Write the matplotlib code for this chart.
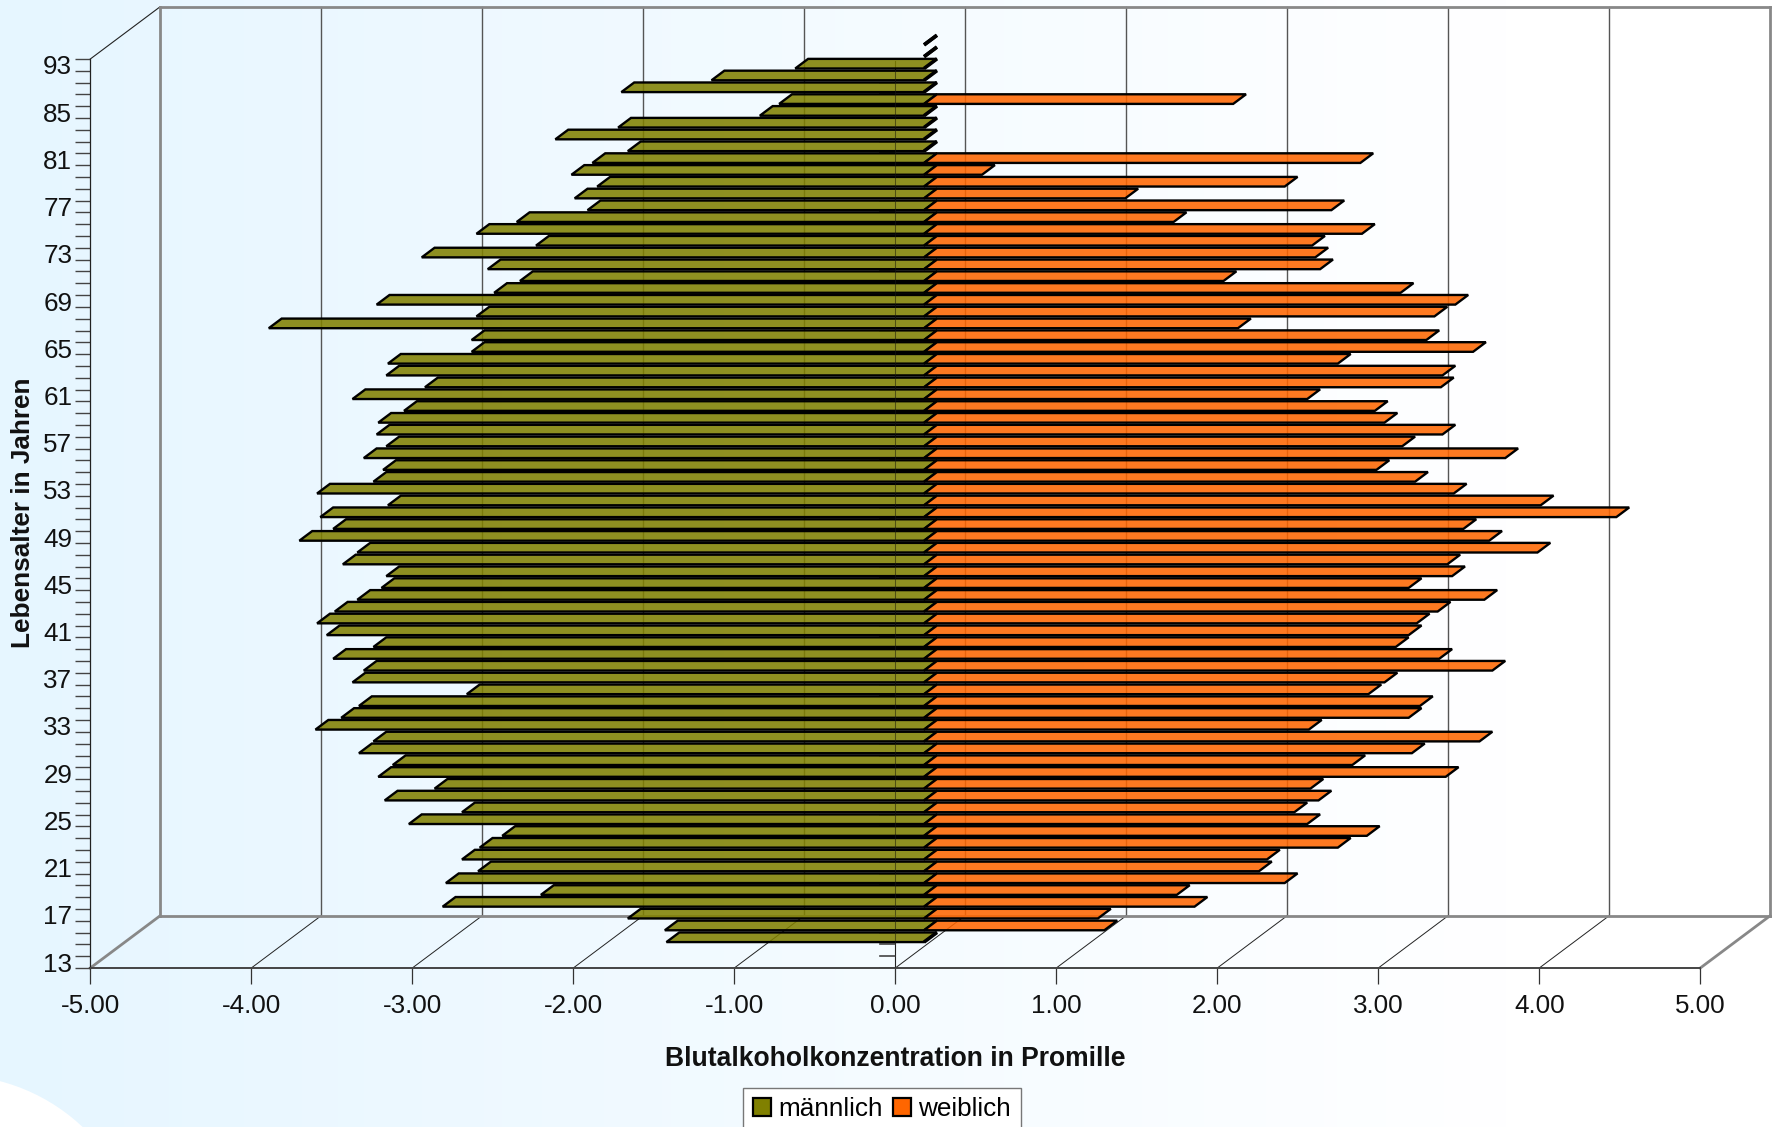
import matplotlib
matplotlib.use('Agg')
import matplotlib.pyplot as plt
import numpy as np
from matplotlib.patches import Circle, Patch

plt.rcParams['font.family'] = ['Liberation Sans', 'DejaVu Sans']

# ages on the category axis, bottom to top
ages = list(range(13, 89)) + [93]
# promille per age, same order
male = [-1.62, -1.63, -1.86, -3.01, -2.40, -2.99, -2.79, -2.89, -2.78, -2.64,
        -3.22, -2.89, -3.37, -3.06, -3.41, -3.32, -3.53, -3.44, -3.80, -3.64,
        -3.53, -2.86, -3.57, -3.50, -3.69, -3.44, -3.73, -3.79, -3.68, -3.54,
        -3.39, -3.36, -3.63, -3.54, -3.90, -3.69, -3.77, -3.35, -3.79, -3.44,
        -3.38, -3.50, -3.36, -3.42, -3.41, -3.25, -3.57, -3.12, -3.36, -3.35,
        -2.83, -2.83, -4.09, -2.80, -3.42, -2.69, -2.53, -2.73, -3.14, -2.43,
        -2.80, -2.55, -2.11, -2.19, -2.05, -2.21, -2.08, -1.86, -2.31, -1.92,
        -1.04, -0.92, -1.90, -1.34, -0.82, 0, 0]
female = [0, 1.10, 1.06, 1.66, 1.55, 2.22, 2.06, 2.11, 2.55, 2.73,
          2.36, 2.28, 2.43, 2.38, 3.22, 2.64, 3.01, 3.43, 2.37, 2.99,
          3.06, 2.74, 2.84, 3.51, 3.18, 2.91, 2.99, 3.04, 3.17, 3.46,
          2.99, 3.26, 3.23, 3.79, 3.49, 3.33, 4.28, 3.81, 3.27, 3.03,
          2.79, 3.59, 2.95, 3.20, 2.84, 2.78, 2.36, 3.19, 3.20, 2.55,
          3.39, 3.10, 1.93, 3.15, 3.28, 2.94, 1.84, 2.44, 2.41, 2.39,
          2.70, 1.53, 2.51, 1.23, 2.22, 0.34, 2.69, 0, 0, 0,
          0, 1.90, 0, 0, 0, 0, 0]
xticks = [-5, -4, -3, -2, -1, 0, 1, 2, 3, 4, 5]

W, H = 1777, 1127
fig = plt.figure(figsize=(W / 100, H / 100), dpi=100)

# page background: soft blue to white, white blob bottom left
bg = fig.add_axes([0, 0, 1, 1], zorder=0)
bg.set_xlim(0, W)
bg.set_ylim(H, 0)
bg.axis('off')
t = np.clip(np.linspace(0, 1.18, 400), 0, 1)
grad = np.ones((1, 400, 3))
grad[0, :, 0] = 230 / 255 + t * 25 / 255
grad[0, :, 1] = 246 / 255 + t * 9 / 255
bg.imshow(grad, extent=[0, W, H, 0], aspect='auto')
bg.add_patch(Circle((-48, 1265), 190, color='white', lw=0))

# front plane of the fake 3d box
left, right, bottom, top = 90.3, 1700.3, 968, 59
ax = fig.add_axes([left / W, 1 - bottom / H, (right - left) / W, (bottom - top) / H], zorder=1)
ax.patch.set_alpha(0)
n = len(ages)
ax.set_xlim(-5, 5)
ax.set_ylim(0, n)

DX = 69.5 / 161
DY = 52 / ((bottom - top) / n)
F1, F2 = 0.46, 0.645
ROW_SHIFT = 0.17
BASE = -0.02


def proj(v, row, depth):
    return v + DX * depth, row + DY * depth


def line3d(a, b, color, lw, z=1):
    ax.plot([a[0], b[0]], [a[1], b[1]], color=color, lw=lw, clip_on=False, zorder=z,
            solid_capstyle='projecting')


GRAY = '#888888'
for v in xticks:
    line3d((v, 0), proj(v, 0, 1), GRAY if abs(v) == 5 else '#222222', 2.0 if abs(v) == 5 else 0.7)
    if abs(v) < 5:
        line3d(proj(v, 0, 1), proj(v, n, 1), '#555555', 1.0)
line3d(proj(-5, 0, 1), proj(-5, n, 1), GRAY, 2.0, 2)
line3d(proj(5, 0, 1), proj(5, n, 1), GRAY, 2.0, 2)
line3d(proj(-5, 0, 1), proj(5, 0, 1), GRAY, 2.0, 2)
line3d(proj(-5, n, 1), proj(5, n, 1), GRAY, 2.0, 2)
line3d((-5, n), proj(-5, n, 1), '#222222', 0.8)

# zero axis with its small ticks
ax.plot([0, 0], [0, n - 0.2], color='#222222', lw=0.8, zorder=1, clip_on=False)
for r in range(0, n):
    ax.plot([-0.095, 0], [r, r], color='#444444', lw=1.2, zorder=1)


def bar(v, row, face, z):
    row = row + ROW_SHIFT
    corners = [proj(v + BASE, row, F1), proj(BASE, row, F1), proj(BASE, row, F2), proj(v + BASE, row, F2)]
    if v != 0:
        corners[0] = proj(v, row, F1)
        corners[3] = proj(v, row, F2)
    xs, ys = zip(*corners)
    ax.fill(xs, ys, facecolor=face, edgecolor='black', lw=1.7 if v != 0 else 2.6, joinstyle='miter',
            clip_on=False, zorder=z)


OLIVE = (128 / 255, 128 / 255, 0, 0.87)
ORANGE = (1.0, 102 / 255, 0, 0.87)
for i in range(n - 1, -1, -1):
    z = 3 + (n - i) * 0.01
    bar(male[i], i, OLIVE, z)
    bar(female[i], i, ORANGE, z + 0.005)
ax.plot([0, 0], [0, proj(0, n - 3, F1)[1]], color='#222222', lw=0.7, alpha=0.45, zorder=4)

for s in ['top', 'right']:
    ax.spines[s].set_visible(False)
ax.spines['left'].set_color('#222222')
ax.spines['bottom'].set_color('#444444')
ax.spines['left'].set_linewidth(0.9)
ax.spines['bottom'].set_linewidth(1.4)
ax.set_xticks(xticks)
ax.set_xticklabels(['%.2f' % v for v in xticks], fontsize=18.7, color='#111111')
ax.tick_params(axis='x', length=11.5, width=0.9, color='#333333', pad=7.5)
ax.set_yticks(range(n + 1))
ax.set_yticklabels([])
ax.tick_params(axis='y', length=11, width=1.0, color='#444444')
ax.set_yticks(np.arange(0, n, 4) + 0.5, minor=True)
ax.set_yticklabels([ages[i] for i in range(0, n, 4)], minor=True, fontsize=18.7, color='#111111')
ax.tick_params(axis='y', which='minor', length=0, pad=13)

fig.text(895 / W, 1 - 1059 / H, 'Blutalkoholkonzentration in Promille', ha='center', va='center',
         fontsize=19.1, fontweight='bold', color='#111111')
fig.text(23 / W, 1 - 513 / H, 'Lebensalter in Jahren', ha='center', va='center', rotation=90,
         fontsize=18.8, fontweight='bold', color='#111111')

handles = [Patch(facecolor='#808000', edgecolor='black', lw=1.6, label='männlich'),
           Patch(facecolor='#FF6600', edgecolor='black', lw=1.6, label='weiblich')]
leg = fig.legend(handles=handles, ncol=2, loc='upper center', bbox_to_anchor=(882 / W, 1 - 1088 / H),
                 frameon=True, fancybox=False, edgecolor='#777777', facecolor='white', framealpha=1,
                 fontsize=18.8, handlelength=0.68, handleheight=0.68, handletextpad=0.28,
                 columnspacing=0.42, borderpad=0.36, borderaxespad=0)
leg.get_frame().set_linewidth(1.0)

fig.savefig('out.png', dpi=100)
